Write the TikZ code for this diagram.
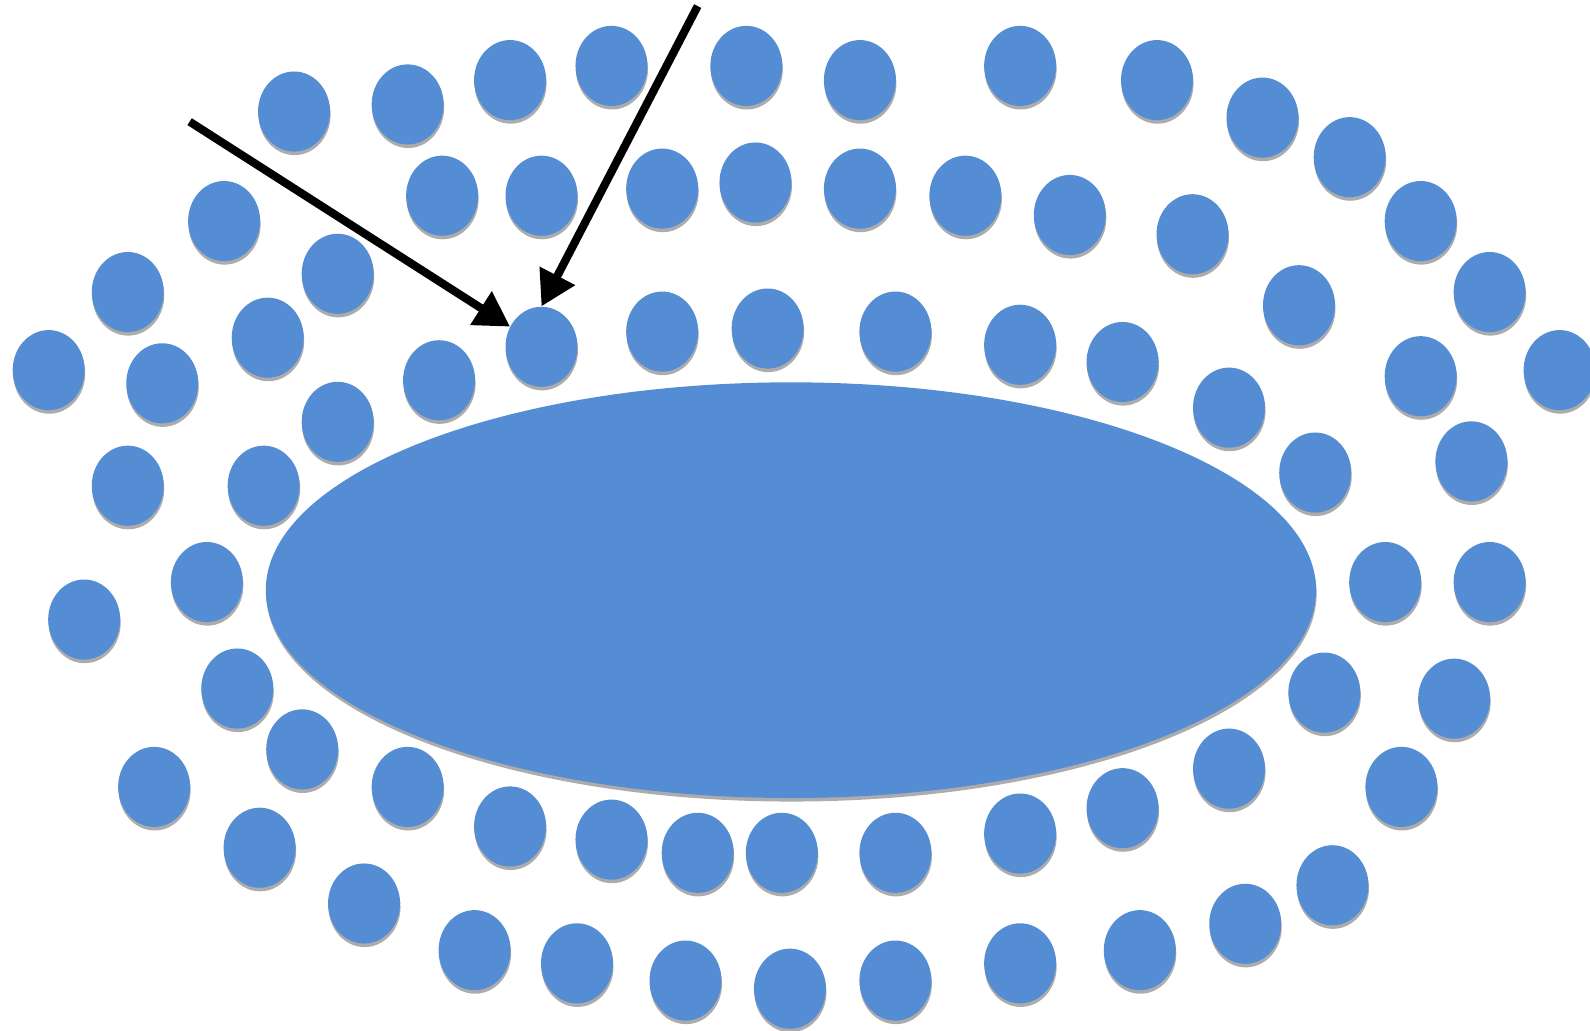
\documentclass[tikz,border=0pt]{standalone}
\usetikzlibrary{shapes.geometric,shadows,arrows.meta}
\definecolor{dotblue}{HTML}{548DD4}
\tikzset{
  blob/.style={ellipse,fill=dotblue,inner sep=0pt,
    drop shadow={shadow xshift=0.01cm,shadow yshift=-0.07cm,fill=black!65,opacity=.5}},
  dot/.style={blob,minimum width=1.42cm,minimum height=1.58cm},
  pointer/.style={-{Triangle[length=0.68cm,width=0.75cm]},line width=0.16cm}
}
\begin{document}
\begin{tikzpicture}[x=0.02cm,y=-0.02cm]
    \useasboundingbox (0,0) rectangle (1568,1016);

    \node[blob,minimum width=20.72cm,minimum height=8.2cm] (core) at (780,582) {};

    \foreach \x/\y [count=\n] in {
        290/110,402/103,503/79,603/65,736/65,848/79,1006/65,1141/79,1245/116,
        1331/155,1401/218,1469/288,1538/365,
        221/218,436/193,534/193,653/186,745/180,848/186,952/193,1055/212,
        1176/231,1281/301,1401/371,1451/455,
        126/288,333/270,264/333,48/365,160/378,433/375,653/327,757/324,
        883/327,1006/340,1107/357,1212/402,1297/466,
        333/416,126/479,260/479,204/574,83/611,234/679,298/739,152/776,
        256/836,359/891,402/776,503/815,603/828,688/841,771/841,883/841,
        1006/822,1107/797,1212/758,1306/683,1366/574,1469/574,1434/689,
        1382/776,1314/873,1228/911,1124/937,1006/950,883/967,779/975,
        676/967,569/950,468/937}{
        \node[dot] (d\n) at (\x,\y) {};
    }

    \node[dot] (hit) at (534,342) {};

    \coordinate (from1) at (187,120);
    \coordinate (from2) at (688,6);
    \draw[pointer] (from1) -- (hit);
    \draw[pointer] (from2) -- (hit.north);
\end{tikzpicture}
\end{document}
